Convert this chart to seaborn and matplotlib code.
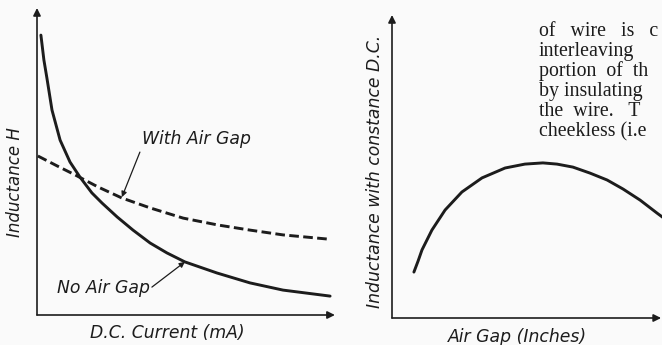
import matplotlib
matplotlib.use("Agg")
import matplotlib.pyplot as plt
import seaborn as sns

# Dữ liệu (đơn vị tuỳ ý, 1 đơn vị = 30 px)
current = [0.13, 0.17, 0.23, 0.33, 0.5, 0.77, 1.1, 1.43, 1.83, 2.17, 2.67, 3.2, 3.77,
           4.33, 4.93, 6.0, 7.1, 8.2, 9.77]
ind_no_gap = [9.33, 9.0, 8.5, 7.9, 6.83, 5.83, 5.1, 4.6, 4.07, 3.73, 3.27, 2.83, 2.4,
              2.07, 1.77, 1.4, 1.07, 0.83, 0.63]

current_gap = [0.03, 0.67, 1.27, 2.03, 2.83, 3.77, 4.87, 6.03, 7.1, 8.2, 9.7]
ind_with_gap = [5.3, 4.97, 4.67, 4.27, 3.9, 3.57, 3.23, 3.0, 2.83, 2.67, 2.53]

air_gap = [0.73, 0.87, 1.0, 1.33, 1.77, 2.33, 3.0, 3.77, 4.43, 5.03, 5.5, 6.03, 6.6,
           7.17, 7.7, 8.27, 8.83, 9.1]
ind_const_dc = [1.53, 1.9, 2.27, 2.93, 3.6, 4.2, 4.67, 5.0, 5.13, 5.17, 5.13, 5.03, 4.83,
                4.6, 4.3, 3.93, 3.5, 3.3]

book_lines = ["of   wire   is   c", "interleaving", "portion  of  th",
              "by insulating", "the  wire.   T", "cheekless (i.e"]

INK = "#1c1c1c"
BG = "#fafafa"
W, H = 662, 345
FS = 12.4

sns.set_style("white")
plt.rcParams["font.family"] = ["DejaVu Sans"]


def px_axes(fig, x0, y0, x1, y1):
    """Tạo trục theo toạ độ pixel (x0,y0 = gốc, x1,y1 = góc trên phải)"""
    ax = fig.add_axes([x0 / W, 1 - y0 / H, (x1 - x0) / W, (y0 - y1) / H])
    ax.patch.set_alpha(0)
    for s in ax.spines.values():
        s.set_visible(False)
    ax.set_xticks([])
    ax.set_yticks([])
    return ax


def axis_arrows(ax, xmax, ymax):
    style = dict(arrowstyle="-|>", color=INK, lw=1.2, mutation_scale=11, shrinkA=0, shrinkB=0)
    ax.annotate("", xy=(0, ymax), xytext=(0, 0), arrowprops=style, annotation_clip=False)
    ax.annotate("", xy=(xmax, 0), xytext=(0, 0), arrowprops=style, annotation_clip=False)


def pointer(ax, tail, tip):
    ax.annotate("", xy=tip, xytext=tail, annotation_clip=False,
                arrowprops=dict(arrowstyle="-|>", color=INK, lw=0.9, mutation_scale=8,
                                shrinkA=0, shrinkB=0))


fig = plt.figure(figsize=(W / 100, H / 100), dpi=100, facecolor=BG)

# Biểu đồ trái: độ tự cảm theo dòng DC
ax1 = px_axes(fig, 37, 315, 337, 8)
ax1.set_xlim(0, 10)
ax1.set_ylim(0, 307 / 30)
sns.lineplot(x=current, y=ind_no_gap, ax=ax1, color=INK, lw=2.1)
sns.lineplot(x=current_gap, y=ind_with_gap, ax=ax1, color=INK, lw=2.1,
             linestyle=(0, (3.3, 1.5)))
axis_arrows(ax1, 9.93, 307 / 30)
ax1.text(3.5, 5.7, "With Air Gap", style="italic", fontsize=FS, color=INK, va="baseline")
pointer(ax1, (3.43, 5.43), (2.83, 3.93))
ax1.text(0.67, 0.73, "No Air Gap", style="italic", fontsize=FS, color=INK, va="baseline")
pointer(ax1, (3.83, 0.93), (4.93, 1.77))
fig.text(15 / W, 1 - 182 / H, "Inductance H", rotation=90, style="italic", fontsize=12,
         color=INK, ha="center", va="center")
fig.text(167 / W, 1 - 333 / H, "D.C. Current (mA)", style="italic", fontsize=FS,
         color=INK, ha="center", va="center")

# Biểu đồ phải: độ tự cảm theo khe hở không khí
ax2 = px_axes(fig, 392, 318, 662, 15)
ax2.set_xlim(0, 9)
ax2.set_ylim(0, 303 / 30)
sns.lineplot(x=air_gap, y=ind_const_dc, ax=ax2, color=INK, lw=2.1)
axis_arrows(ax2, 8.97, 303 / 30)
fig.text(375 / W, 1 - 171 / H, "Inductance with constance D.C.", rotation=90, style="italic",
         fontsize=FS, color=INK, ha="center", va="center")
fig.text(517 / W, 1 - 337 / H, "Air Gap (Inches)", style="italic", fontsize=FS,
         color=INK, ha="center", va="center")

# Đoạn văn bản của sách bị cắt ở mép phải
for i, line in enumerate(book_lines):
    fig.text(539 / W, 1 - (36.5 + 19.9 * i) / H, line, family="Liberation Serif",
             fontsize=14.3, color=INK, va="baseline", ha="left")

fig.savefig("out.png", dpi=100, facecolor=BG)
